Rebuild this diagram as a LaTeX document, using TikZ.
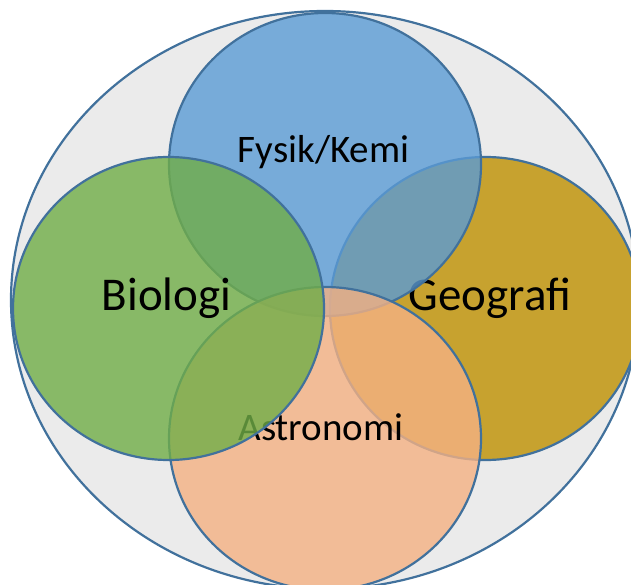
\documentclass[tikz,border=0pt]{standalone}
\usepackage{fontspec}
\setmainfont{Carlito}
\definecolor{edge}{HTML}{41719C}
\definecolor{bggray}{HTML}{EBEBEB}
\definecolor{cgold}{HTML}{BF9000}
\definecolor{cblue}{HTML}{5B9BD5}
\definecolor{corange}{HTML}{F4B183}
\definecolor{cgreen}{HTML}{70AD47}
\begin{document}
\begin{tikzpicture}[x=1pt,y=-1pt,
  venn/.style={draw=edge, line width=2.2pt, fill opacity=0.8},
  lbl/.style={anchor=base, text=black, inner sep=0pt, font=\fontsize{39}{47}\selectfont},
  biglbl/.style={lbl, font=\fontsize{47}{56}\selectfont}]
\useasboundingbox (0,0) rectangle (631,585);
\clip (0,0) rectangle (631,585);
% outer frame
\path[draw=edge, line width=2.2pt, fill=bggray] (325,300) ellipse [x radius=314pt, y radius=289pt];
% Geografi
\path[venn, fill=cgold] (485.5,308.5) ellipse [x radius=155.5pt, y radius=151.5pt];
\node[biglbl] (geo) at (490,310) {Geografi};
% Fysik/Kemi
\path[venn, fill=cblue] (325,164.5) ellipse [x radius=156pt, y radius=151.5pt];
\node[lbl] (fys) at (323.5,163) {Fysik/Kemi};
% Astronomi
\path[venn, fill=corange] (325,438.5) ellipse [x radius=156pt, y radius=151.5pt];
\node[lbl] (ast) at (321,440) {Astronomi};
% Biologi
\path[venn, fill=cgreen] (168.5,308.5) ellipse [x radius=155.5pt, y radius=151.5pt];
\node[biglbl] (bio) at (166.5,310) {Biologi};
\end{tikzpicture}
\end{document}
